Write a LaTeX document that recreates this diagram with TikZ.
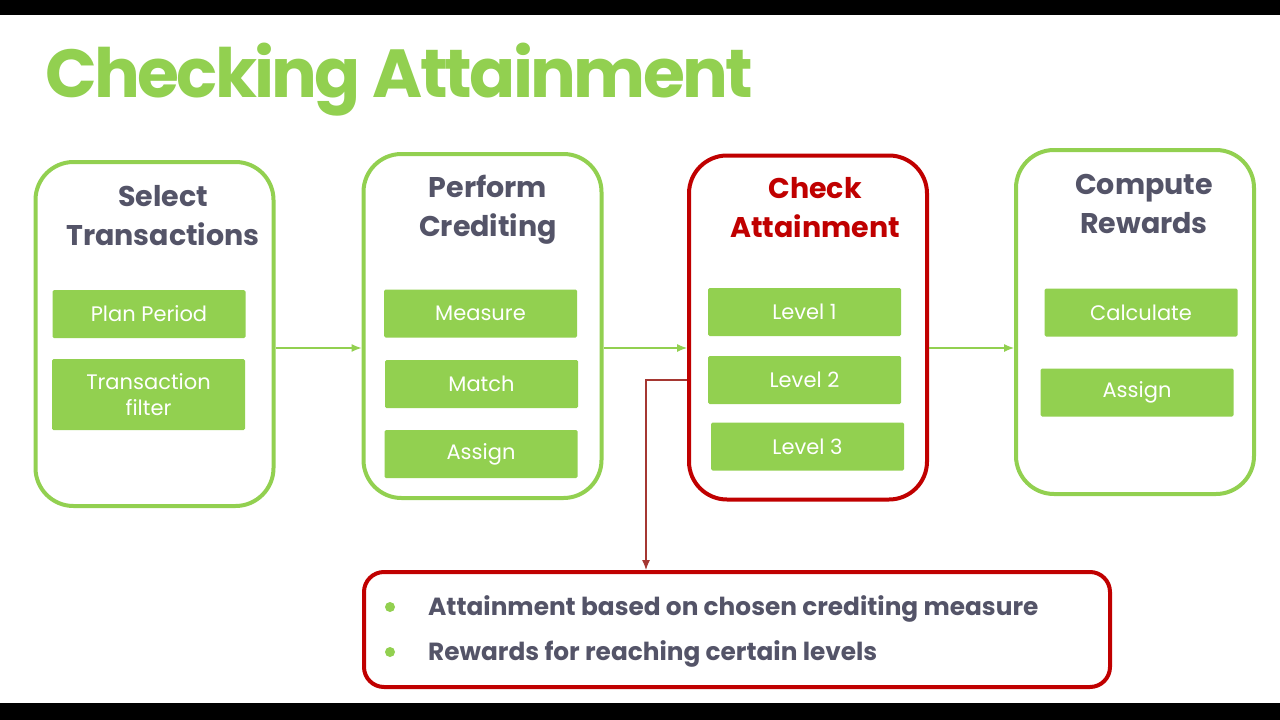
\documentclass[tikz,border=0pt]{standalone}
\usepackage{fontspec}
\setmainfont{Poppins}
\usetikzlibrary{positioning,arrows.meta,calc}
\definecolor{leaf}{RGB}{146,208,80}
\definecolor{alarm}{RGB}{192,0,0}
\definecolor{slate}{RGB}{84,84,104}
\definecolor{rust}{RGB}{165,55,50}

\begin{document}
\begin{tikzpicture}[x=1pt, y=-1pt,
    stage/.style={draw=leaf, line width=4pt, rounded corners=38pt,
                  minimum width=238pt, minimum height=344pt},
    item/.style={fill=leaf, rounded corners=1.5pt, minimum width=193pt,
                 minimum height=48pt, text=white, align=center,
                 font=\fontsize{21}{26}\selectfont},
    head/.style={text=slate, align=center, font=\bfseries\fontsize{28.5}{39}\selectfont},
    flow/.style={leaf, line width=1.2pt, -{Latex[length=10pt,width=8pt]}},
    dot/.style={circle, fill=leaf, inner sep=0pt, minimum size=10pt},
    bullet/.style={anchor=base west, inner sep=0pt, text=slate,
                   font=\bfseries\fontsize{24.8}{30}\selectfont}]
%
    \useasboundingbox (0,0) rectangle (1280,720);
    \fill[white] (0,0) rectangle (1280,720);
    \fill[black] (0,0) rectangle (1280,15);
    \fill[black] (0,703) rectangle (1280,720);
%
    \node[anchor=base west, inner sep=0pt, text=leaf,
          font=\bfseries\fontsize{68}{80}\selectfont\addfontfeatures{LetterSpace=-4}]
          (title) at (45,97) {Checking Attainment};
%
    % the four stages
    \node[stage] (select)  at (154.5,334) {};
    \node[stage] (perform) at (482.5,326) {};
    \node[stage, draw=alarm] (check) at (808,327.5) {};
    \node[stage] (compute) at (1135,322) {};
%
    \node[head] (selectHd)  at (163,215.5) {Select\\Transactions};
    \node[head] (performHd) at (488,210)   {Perform\\Crediting};
    \node[head, text=alarm] (checkHd) at (815,207.5) {Check\\Attainment};
    \node[head] (computeHd) at (1144,203.5) {Compute\\Rewards};
%
    \node[item] (period)  at (149,314)     {Plan Period};
    \node[item, minimum height=71pt] (filter) at (148.5,394.5) {Transaction\\filter};
%
    \node[item] (measure) at (480.5,313.5) {Measure};
    \node[item] (match)   at (481.5,384)   {Match};
    \node[item] (assignA) at (481,454)     {Assign};
%
    \node[item] (levelA)  at (804.5,312)   {Level 1};
    \node[item] (levelB)  at (804.5,380)   {Level 2};
    \node[item] (levelC)  at (807.5,446.5) {Level 3};
%
    \node[item] (calc)    at (1141,312.5)  {Calculate};
    \node[item] (assignB) at (1137,392.5)  {Assign};
%
    \draw[flow] (select.east |- 0,348)  -- (perform.west |- 0,348);
    \draw[flow] (perform.east |- 0,348) -- (check.west |- 0,348);
    \draw[flow] (check.east |- 0,348)   -- (compute.west |- 0,348);
%
    % notes box under the check stage
    \node[draw=alarm, line width=4pt, rounded corners=20pt,
          minimum width=746pt, minimum height=115pt] (notes) at (737,629.5) {};
    \node[coordinate] (kink) at (646,380) {};
    \draw[rust, line width=1.2pt, -{Latex[length=10pt,width=8pt]}]
        (check.west |- kink) -- (kink) -- (kink |- notes.north);
%
    \node[dot] (dotA) at (390,607) {};
    \node[dot] (dotB) at (390,652) {};
    \node[bullet] (lineA) at (428,615) {Attainment based on chosen crediting measure};
    \node[bullet] (lineB) at (428,660) {Rewards for reaching certain levels};
\end{tikzpicture}
\end{document}
